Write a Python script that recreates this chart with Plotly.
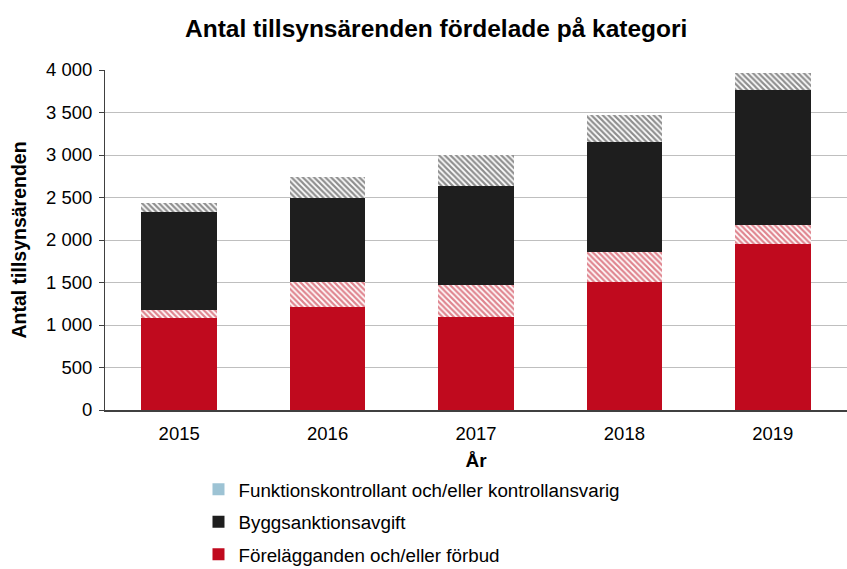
import plotly.graph_objects as go

years = ["2015", "2016", "2017", "2018", "2019"]
forelagganden = [1080, 1210, 1100, 1510, 1950]
forelagganden_hatch = [100, 300, 365, 345, 225]
bygg = [1150, 990, 1170, 1295, 1595]
bygg_hatch = [100, 240, 370, 315, 190]
funktion = [0, 0, 0, 0, 0]

names = ["Förelägganden och/eller förbud", "Byggsanktionsavgift",
         "Funktionskontrollant och/eller kontrollansvarig"]
RED = "#C00A1E"
BLACK = "#1E1E1E"
BLUE = "#9DC3D4"

FONT = "Liberation Sans, Arial, sans-serif"

fig = go.Figure()
fig.add_bar(x=years, y=forelagganden, name=names[0], marker_color=RED,
            legendgroup="a", legendrank=3, marker_line_width=0)
fig.add_bar(x=years, y=forelagganden_hatch, name=names[0] + " ", showlegend=False,
            legendgroup="a", marker=dict(color="white", line_width=0,
            pattern=dict(shape="\\", fgcolor=RED, bgcolor="white", size=4, solidity=0.55)))
fig.add_bar(x=years, y=bygg, name=names[1], marker_color=BLACK,
            legendgroup="b", legendrank=2, marker_line_width=0)
fig.add_bar(x=years, y=bygg_hatch, name=names[1] + " ", showlegend=False,
            legendgroup="b", marker=dict(color="white", line_width=0,
            pattern=dict(shape="\\", fgcolor=BLACK, bgcolor="white", size=4, solidity=0.55)))
fig.add_bar(x=years, y=funktion, name=names[2], marker_color=BLUE,
            legendgroup="c", legendrank=1, marker_line_width=0)

fig.update_layout(
    barmode="stack",
    bargap=0.49,
    width=847, height=569,
    margin=dict(l=105, r=0, t=70, b=159),
    paper_bgcolor="white", plot_bgcolor="white",
    font=dict(family=FONT, size=18, color="#000000"),
    title=dict(text="<b>Antal tillsynsärenden fördelade på kategori</b>",
               x=0.515, xanchor="center", y=0.95, yanchor="middle",
               font=dict(family=FONT, size=24.5, color="#000000")),
    legend=dict(orientation="v", x=0.126, xanchor="left",
                yref="container", y=0.173, yanchor="top",
                traceorder="grouped", tracegroupgap=5,
                font=dict(family=FONT, size=18.8, color="#000000"),
                itemwidth=30),
    separators=", ",
)
fig.update_yaxes(range=[0, 4000], tickvals=[0, 500, 1000, 1500, 2000, 2500, 3000, 3500, 4000],
                 tickformat=",d", showgrid=True, gridcolor="#BFBFBF", gridwidth=1,
                 showline=True, linecolor="#404040", linewidth=1,
                 ticks="outside", ticklen=5, tickcolor="#404040",
                 zeroline=False, automargin=False,
                 tickfont=dict(size=18.5), ticklabelstandoff=3,
                 title=dict(text="<b>Antal tillsynsärenden</b>", standoff=14,
                            font=dict(family=FONT, size=19.5)))
fig.update_xaxes(showline=True, linecolor="#404040", linewidth=1.5,
                 ticks="", automargin=False, tickfont=dict(size=18.5),
                 ticklabelstandoff=6,
                 title=dict(text="<b>År</b>", standoff=17,
                            font=dict(family=FONT, size=19)))

fig.write_html("out.html", config={"displayModeBar": False},
               post_script="document.body.style.margin='0';")
